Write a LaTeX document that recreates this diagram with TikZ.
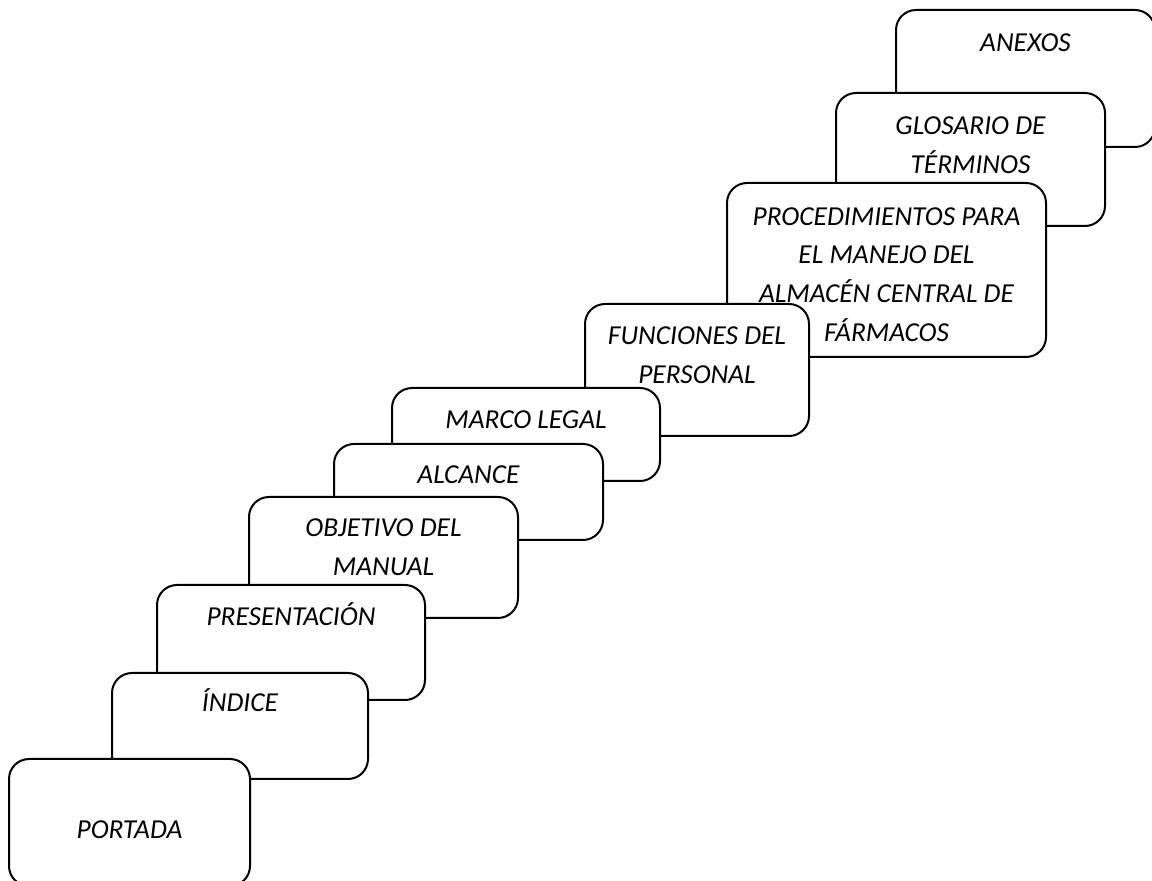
\documentclass[tikz,border=0pt]{standalone}
\usepackage{fontspec}
\setmainfont{Carlito}
\usetikzlibrary{fit}

% strut giving every line the same height and depth, so that a node's
% centre lies on the middle of its capital letters
\newcommand{\capstrut}{\rule[-0.3em]{0pt}{1.232em}}

\tikzset{
  stepbox/.style={draw=black, fill=white, line width=1pt,
    rounded corners=10pt, inner sep=0pt},
  steptext/.style={font=\fontsize{13.7pt}{19.3pt}\selectfont\itshape,
    align=center, inner sep=0pt, anchor=center}
}

% #1 name, #2 left, #3 top, #4 right, #5 bottom, #6 text centre y, #7 text
\newcommand{\mkstep}[7]{%
  \node[stepbox, fit={(#2,#3)(#4,#5)}] (#1) {};
  \node[steptext] (#1-t) at ({(#2+#4)/2},#6) {#7};
}

\begin{document}
\begin{tikzpicture}[x=0.5pt, y=-0.5pt]
  \useasboundingbox (0,0) rectangle (1152,881);
  \clip (0,0) rectangle (1152,881);

  % steps from the back (top right) to the front (bottom left)
  \mkstep{anexos}{896}{10}{1155}{147}{43}{\capstrut ANEXOS}
  \mkstep{glosario}{836}{93}{1105}{226}{145.5}{\capstrut GLOSARIO DE\\\capstrut TÉRMINOS}
  \mkstep{proced}{727}{183}{1046}{357}{274.5}{\capstrut PROCEDIMIENTOS PARA\\\capstrut EL MANEJO DEL\\\capstrut ALMACÉN CENTRAL DE\\\capstrut FÁRMACOS}
  \mkstep{funciones}{585}{304}{809}{436}{355.5}{\capstrut FUNCIONES DEL\\\capstrut PERSONAL}
  \mkstep{marco}{392}{388}{660}{481}{420}{\capstrut MARCO LEGAL}
  \mkstep{alcance}{334}{444}{603}{540}{475}{\capstrut ALCANCE}
  \mkstep{objetivo}{249}{497}{518}{618}{547.5}{\capstrut OBJETIVO DEL\\\capstrut MANUAL}
  \mkstep{presentacion}{157}{585}{425}{700}{617}{\capstrut PRESENTACIÓN}
  \mkstep{indice}{112}{673}{368}{779}{703}{\capstrut ÍNDICE}
  \mkstep{portada}{9}{759}{250}{886}{830}{\capstrut PORTADA}
\end{tikzpicture}
\end{document}
